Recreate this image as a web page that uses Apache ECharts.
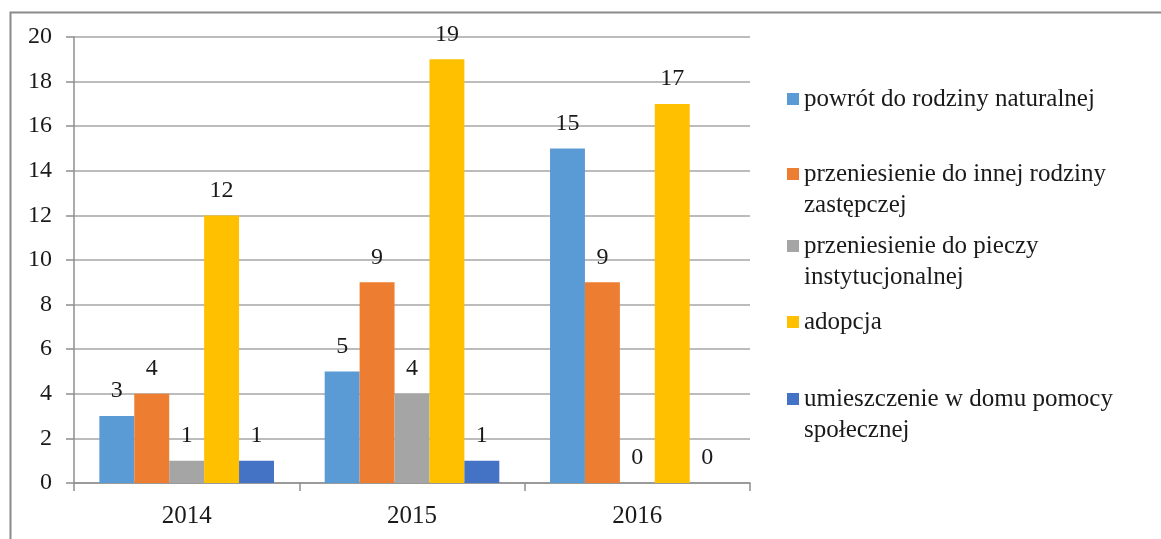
<!DOCTYPE html>
<html>
<head>
<meta charset="utf-8">
<script src="https://cdn.jsdelivr.net/npm/echarts@6/dist/echarts.min.js"></script>
<style>html,body{margin:0;padding:0;background:#fff}#c{width:1161px;height:539px}</style>
</head>
<body>
<div id="c"></div>
<script>
const categories = ['2014', '2015', '2016'];
const seriesNames = [
  'powrót do rodziny naturalnej',
  'przeniesienie do innej rodziny zastępczej',
  'przeniesienie do pieczy instytucjonalnej',
  'adopcja',
  'umieszczenie w domu pomocy społecznej'
];
const legendLines = [
  ['powrót do rodziny naturalnej'],
  ['przeniesienie do innej rodziny', 'zastępczej'],
  ['przeniesienie do pieczy', 'instytucjonalnej'],
  ['adopcja'],
  ['umieszczenie w domu pomocy', 'społecznej']
];
const powrot = [3, 5, 15];
const innaRodzina = [4, 9, 9];
const piecza = [1, 4, 0];
const adopcja = [12, 19, 17];
const dps = [1, 1, 0];
const yTicks = [0, 2, 4, 6, 8, 10, 12, 14, 16, 18, 20];

const values = [powrot, innaRodzina, piecza, adopcja, dps];
const colors = ['#5B9BD5', '#ED7D31', '#A5A5A5', '#FFC000', '#4472C4'];
const FONT = 'Liberation Serif';
const TXT = '#1a1a1a';
const LH = 31;
const firstLineCenters = [99, 174, 246, 322, 399];

const legends = seriesNames.map((name, i) => {
  const two = legendLines[i].length > 1;
  return {
    data: [name],
    orient: 'vertical',
    left: 787,
    top: firstLineCenters[i] - (two ? 46.5 : 15.5),
    padding: 0,
    itemWidth: 12,
    itemHeight: 12,
    itemGap: 0,
    icon: 'rect',
    selectedMode: false,
    formatter: () => two ? ' \n' + legendLines[i].join('\n') : legendLines[i][0],
    textStyle: {
      fontFamily: FONT, fontSize: 25, color: TXT, lineHeight: LH
    }
  };
});

const chart = echarts.init(document.getElementById('c'), null, {renderer: 'canvas'});
chart.setOption({
  animation: false,
  backgroundColor: '#fff',
  graphic: [{
    type: 'rect', left: 8, top: 10, silent: true,
    shape: {width: 1170, height: 560},
    style: {fill: 'none', stroke: '#8a8a8a', lineWidth: 2}
  }],
  legend: legends,
  grid: {left: 74, right: 411, top: 37, bottom: 56, containLabel: false},
  xAxis: {
    type: 'category',
    data: categories,
    axisLine: {lineStyle: {color: '#8f8f8f', width: 1.5}},
    axisTick: {show: true, length: 8, alignWithLabel: false, lineStyle: {color: '#8f8f8f', width: 1.5}},
    axisLabel: {fontFamily: FONT, fontSize: 25, color: TXT, margin: 21}
  },
  yAxis: {
    type: 'value',
    min: yTicks[0], max: yTicks[yTicks.length - 1], interval: 2,
    axisLine: {show: true, lineStyle: {color: '#8f8f8f', width: 1.5}},
    axisTick: {show: true, length: 8, lineStyle: {color: '#8f8f8f', width: 1.5}},
    splitLine: {lineStyle: {color: '#a6a6a6', width: 1.5}},
    axisLabel: {fontFamily: FONT, fontSize: 24, color: TXT, margin: 22}
  },
  series: seriesNames.map((name, i) => ({
    name, type: 'bar',
    data: values[i],
    barGap: '0%',
    barCategoryGap: '22.5%',
    itemStyle: {color: colors[i]},
    label: {
      show: true, position: 'top', distance: 13,
      fontFamily: FONT, fontSize: 24, color: TXT
    }
  }))
});
</script>
</body>
</html>
